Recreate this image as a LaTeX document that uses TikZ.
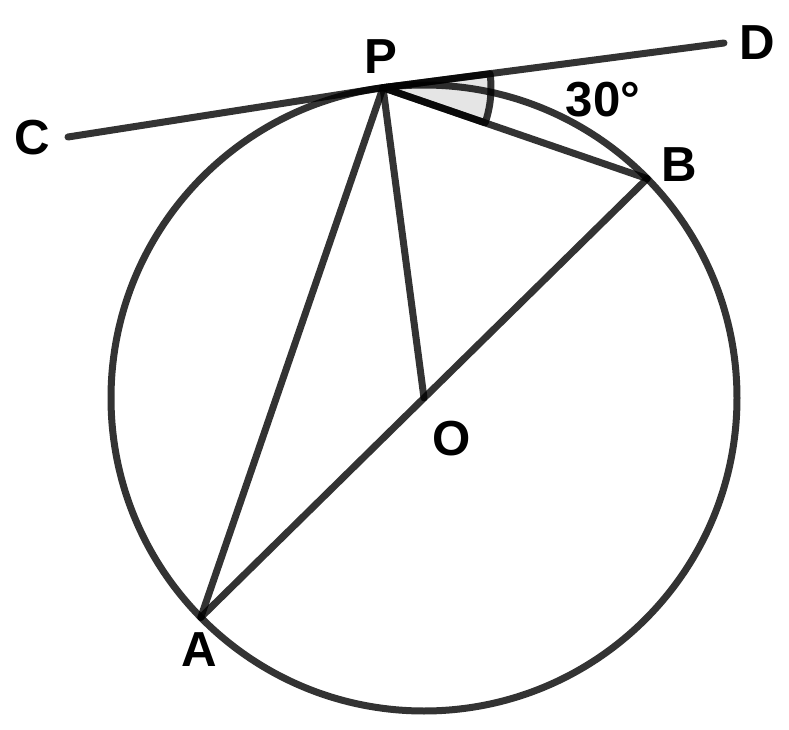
\documentclass[tikz,border=0pt]{standalone}
\usepackage{fontspec}
\setmainfont{Liberation Sans}
\tikzset{
  seg/.style={line width=0.14cm, draw=black, draw opacity=0.8, line cap=round, line join=round},
  lbl/.style={draw=none, inner sep=0pt, font=\fontsize{28}{30}\selectfont\bfseries}
}
\begin{document}
\begin{tikzpicture}[x=0.02cm,y=-0.02cm]
    \useasboundingbox (0,0) rectangle (789,730);
    \coordinate (O) at (424,398);
    \coordinate (P) at (383,87.7);
    \coordinate (B) at (647.2,178.6);
    \coordinate (A) at (200.8,617.4);
    \coordinate (C) at (68,137);
    \coordinate (D) at (724,43);
    % angle mark at P
    \fill[gray!20] (P) -- ++(-7.4:108) arc[start angle=-7.4, end angle=19, radius=108] -- cycle;
    \draw[seg] (P) -- ++(-7.4:108) arc[start angle=-7.4, end angle=19, radius=108] -- (P);
    % circle and segments
    \draw[seg] (O) circle[radius=313];
    \draw[seg] (C) -- (P) -- (D);
    \draw[seg] (A) -- (P) -- (B);
    \draw[seg] (A) -- (B);
    \draw[seg] (P) -- (O);
    % labels
    \node(lP) at (381,57) [lbl] {P};
    \node(lC) at (32,138) [lbl] {C};
    \node(lD) at (757,43) [lbl] {D};
    \node(lB) at (679,165) [lbl] {B};
    \node(lO) at (452,439) [lbl] {O};
    \node(lA) at (199,650) [lbl] {A};
    \node(l30) at (603,100) [lbl] {30°};
\end{tikzpicture}
\end{document}
